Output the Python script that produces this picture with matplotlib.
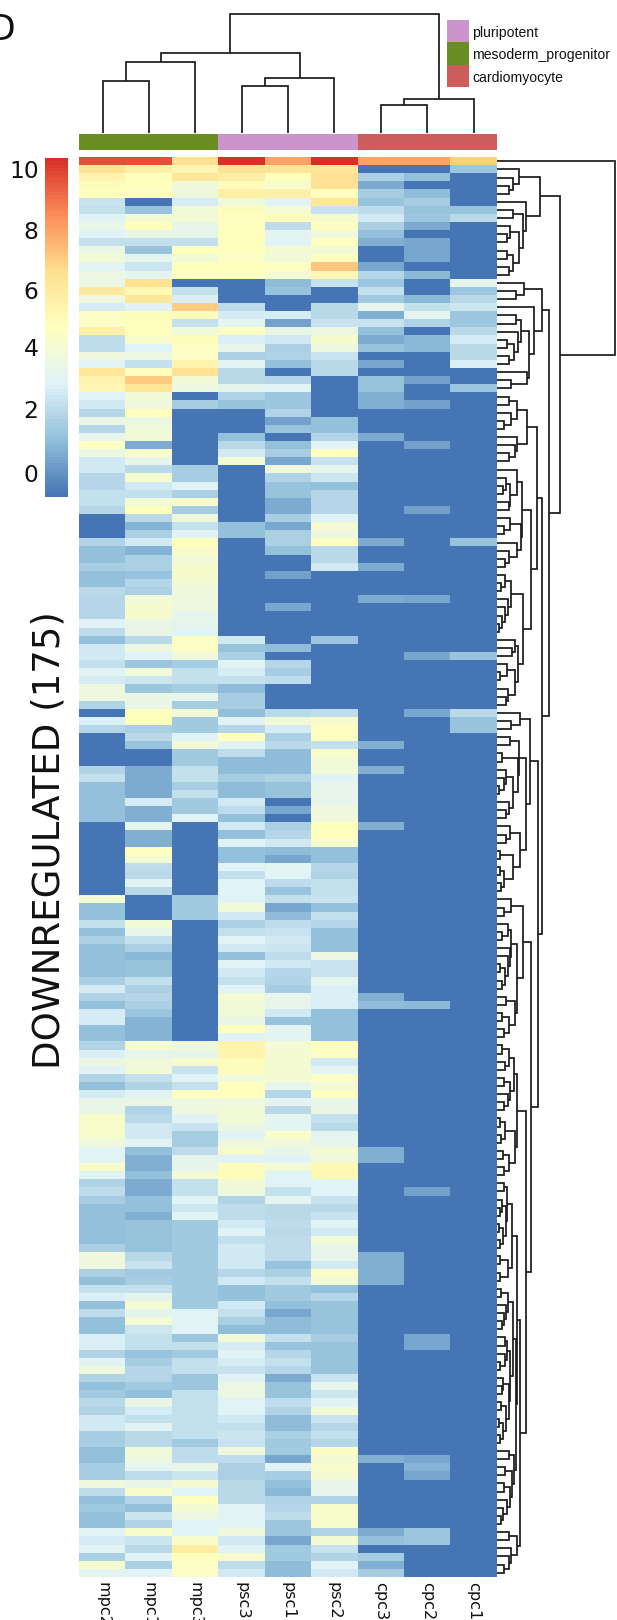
import matplotlib
matplotlib.use("Agg")
import matplotlib.pyplot as plt
import numpy as np
from matplotlib.colors import LinearSegmentedColormap, ListedColormap

D = -0.8  # value of the darkest blue, the floor of the colour scale

columns = ["mpc2", "mpc1", "mpc3", "psc3", "psc1", "psc2", "cpc3", "cpc2", "cpc1"]

mpc2 = [9.6,6.4,5.4,5.0,4.8,2.4,2.3,3,3.5,2.9,
        2.3,3.6,4.0,3,3.6,3.6,6.1,3.7,2.7,4.6,
        4.6,5.6,2.2,2.2,3.8,3,6.3,5.5,5.3,2.9,
        2.6,1.9,3.5,1.9,3.4,4.7,3.6,2.6,2.6,1.9,
        1.9,2.3,2.3,1.9,D,D,D,1.8,1.1,1.1,
        1.6,1.1,1.1,2.1,1.9,1.9,1.9,2.9,2.2,1.1,
        2.6,2.6,2.3,3,2.7,3.7,3.7,1.8,D,2.8,
        1.9,D,D,D,D,1.8,2.3,1.1,1.1,1.1,
        1.1,1.1,D,D,D,D,D,D,D,D,
        D,4.2,1.1,1.1,2.3,1.2,1.7,1.1,1.1,1.1,
        1.1,1.7,2.7,1.8,1.2,2.7,2.7,1.1,1.1,1.8,
        2.8,3.6,3,1.8,1.1,2.7,3.5,3.5,4.4,4.4,
        4.3,3.8,3.1,3.1,4.4,3.1,1.8,2.2,1.6,1.1,
        1.1,1.1,1.1,1.1,1.7,3.8,3.7,1.7,1.1,2.3,
        2.8,1.1,2.2,1.1,1.1,2.8,2.8,1.8,3,3.7,
        1.8,1.1,1.5,2.1,1.8,2.6,2.6,1.6,1.6,1.1,
        1.1,1.6,1.6,3.8,2.2,1.1,1.5,1.1,1.1,3.1,
        2.7,3,1.7,4.3,3.2]

mpc1 = [9.6,5.7,4.8,4.8,4.6,D,1.3,4.2,4.8,3.5,
        2.3,1.3,3.3,2.5,3.2,6.5,5.2,6.2,3,5.0,
        4.8,4.8,4.4,2.9,3.6,2.3,4.7,7.1,6.3,3.9,
        3.8,4.8,3.6,3.9,3.9,0.6,4.4,3.4,2.0,4.3,
        2.6,2.3,4.1,4.8,2,0.8,1.7,2.6,0.8,1.7,
        1.7,1.3,1.9,1.7,3.9,4.3,4.3,3.5,3.5,2.1,
        3.7,2.9,1.4,3.9,2.5,1.4,3.6,3.5,4.8,4.8,
        1.7,2,1.3,D,D,0.6,0.6,0.6,0.6,2.7,
        0.7,0.7,3.3,0.7,0.7,4.7,4.2,2.2,2,3,
        2.1,D,D,D,4,3.4,2.3,1.7,0.9,1.3,
        1.3,2.3,1.7,1.9,1.7,1.4,0.8,0.8,0.8,4.2,
        3.4,3.8,4,2.3,1.8,3.1,3.5,1.8,2.0,2.6,
        2.6,3,1.2,0.7,0.7,1.2,0.6,0.6,1.1,1.1,
        0.7,1.3,1.3,1.3,1.3,2,2.4,1.5,1.6,2.3,
        3.3,4.2,3.3,4.2,2.5,2.3,2.3,1.3,1.6,1.9,
        1.9,1.5,1.1,3.5,2.7,2.3,3.1,2.1,2.1,3.9,
        3.7,3.2,2.2,3.5,4.4,1.9,1.1,2.5,1.8,4.4,
        2.5,2,3,1.7,2.9]

mpc3 = [6.5,5.3,6.2,3.8,3.8,2.7,3.9,4.0,3.4,3.4,
        2.3,4.8,4,4.8,4.8,D,2.3,2.8,7.1,5.0,
        2.3,3.9,5.0,4.6,4.6,5.4,6.5,4.0,3.7,D,
        1.6,D,D,D,D,D,D,D,1.6,1.6,
        2.9,1.7,4.3,1.6,3.8,2.3,3.1,4.8,4.4,3.9,
        4.3,4.3,4.1,3.8,3.7,3.7,3.4,3.3,2.9,4.6,
        4.6,3.9,1.6,2.3,2.3,1.6,3.4,1.6,4,1.5,
        1.5,3,3.9,1.5,1.5,2.3,2.3,1.6,2.3,1.5,
        1.5,2.9,D,D,D,D,D,D,D,D,
        D,1.5,1.5,1.5,D,D,D,D,D,D,
        D,D,D,D,D,D,D,D,D,3.7,
        3.4,4.3,2.4,2.9,2.3,4.7,3.7,3.7,3,2.4,
        1.6,1.6,2.2,3.3,3.3,4,2.3,2.3,3,2.5,
        3,1.5,1.5,1.5,1.5,1.5,1.5,1.5,1.5,1.5,
        1.5,1.5,3,3,3,1.4,2.3,1.5,2.3,2.3,
        1.4,1.4,2.3,2.3,2.3,2.3,2.3,2.3,1.5,2.2,
        2.2,3.5,2.5,4.2,2.9,4.7,4.2,3.6,3,2.9,
        4.4,5.8,4.8,4.6,4.6]

psc3 = [10.3,6.4,5.7,5.0,5.7,3.9,5.0,4.7,4.8,4.8,
        4.8,4.8,4.6,4.8,4.8,D,D,D,2.2,2.7,
        3.2,4.6,2.8,3.4,1.7,3.2,2.1,2.1,3.3,1.8,
        1.3,D,D,D,1.1,2.1,2.6,4,D,D,
        D,D,D,D,D,1.1,1.1,D,D,D,
        D,D,D,D,D,D,D,D,D,2.6,
        1.3,1.7,3.1,2.7,2.3,1.0,1.6,1.6,1.2,3.1,
        1.9,4.8,3.1,2.2,1,1,1.6,1,1,2.6,
        2.2,1.1,2.6,1.1,2.9,1.1,1.1,3.1,2.3,2.9,
        2.9,3.1,3.9,2.6,1.7,2.3,3.1,2.6,1.1,3,
        2.6,2.3,3.1,4.2,3.9,3.9,3.5,4.8,3.1,5.4,
        5.4,5.0,5.0,3.9,4.8,4.8,3.8,4,4.1,3.6,
        2.9,3.8,4.3,3,5.0,5.0,4,3.7,1.8,2.2,
        2.2,2.6,2.9,2.3,2.6,2.6,2.6,1.9,2.6,1.1,
        1.1,2.6,2.3,1.7,1,4,2.7,3,2.7,2.4,
        3,3.6,3.6,2.9,2.9,2.6,2.3,2.5,2.4,3.8,
        2.2,1.7,1.7,2,2,2,3,3.1,3.1,3.8,
        2.6,3,4.3,2.2,2.6]

psc1 = [8,6.3,4.8,4.3,5.6,3.1,4.2,5.0,2.2,3.2,
        3.1,4.2,3.9,4.7,4.2,1.0,1.3,D,D,2.7,
        0.4,3.5,2.6,1.7,1.8,1.2,D,1.9,3.0,1.4,
        1.4,1.8,0.4,1.3,D,1.2,1.6,0.5,3.8,1.8,
        1.3,1.3,0.6,0.6,1.6,0.5,1.7,1.7,1.1,D,
        D,0.4,D,D,D,0.5,D,D,D,D,
        1.0,D,1.9,1.6,2.2,D,D,D,2.0,3.9,
        2.7,1.7,2,1,1,1,1.8,1.3,1.3,D,
        0.5,D,1.7,1.9,2.6,1.0,0.5,3.2,3.0,2.2,
        1.3,2.3,0.5,1.0,2.2,2.4,2.6,2.5,2.2,2.6,
        1.9,1.8,1.6,3.4,3.4,2.6,1.3,3.2,3.2,4.2,
        4.2,4.2,4.2,4.2,3.4,1.9,3.2,2,3.2,3.2,
        4.5,3.8,3.4,3.1,4,2.9,3,2.3,3.2,2.1,
        2.1,2.2,2,2.2,2.2,2.2,1.3,1.7,2.3,1.5,
        1.5,1.2,0.5,1,1,2.3,1.3,1.9,2.3,1.9,
        0.6,1.3,1.3,2.2,1.8,1,1,1.7,1.5,1.5,
        0.5,3.1,1.6,1.1,0.9,1.8,1.9,2.2,1.4,1.4,
        0.5,1.5,1.5,1,1]

psc2 = [10.3,6.2,6.5,6.5,4.7,6.2,2.4,4.3,4.7,3.8,
        4.7,4.0,4.8,7.2,5.2,2.4,D,D,2,2,
        2.4,3.6,4.3,3.7,2.4,2,2,D,D,D,
        D,D,1.2,1.2,1.8,2.9,4.8,2.4,3.3,2.5,
        1.2,1.9,1.9,1.9,2.9,4.2,3.7,4.6,2,2,
        2.6,D,D,D,D,D,D,D,D,1.4,
        D,D,D,D,D,D,D,D,2.2,4.4,
        4.7,4.7,2.3,4.4,3.9,3.9,2.9,3.4,3.4,3.4,
        3.8,3.8,4.8,4.8,4.3,1.2,1.2,1.9,1.8,2.3,
        2.3,2.4,1.2,2.3,1.9,1.2,1.2,1.2,3.6,2.4,
        2.4,3.3,2.8,2.8,2.8,1.2,1.2,1.2,1.2,4.8,
        4.6,2.6,3.2,4.5,4.2,4.7,3.4,3.6,2.3,2.0,
        3.2,3.4,4.2,3.9,5.2,5.2,2.9,2.9,2.4,2,
        2.4,3,2.6,4.1,3.4,3.4,2.6,4.5,4.1,1.2,
        1.9,1.3,1.3,1.3,1.3,1.6,1.3,1.3,1.3,1.3,
        2.4,3.4,2.5,3.1,4.1,2.4,1.9,2.3,1.9,4.6,
        4.2,4.4,4.2,3.4,3.4,1.8,4.4,4.4,4.4,1.8,
        4.2,2.4,1.8,3.1,2.6]

cpc3 = ([8,D,1.7,0.6,1.6,1.3,2.2,2.6,1.7,1.2,0.7,D,D,0.5,1.9,
         1.4,2.3,1.5,3.3,0.7,2.4,1.2,0.6,1.3,D,0.5,D,1.3,1.3,
         0.7,0.7,D,D,D,0.6] + [D]*12 + [0.6,D,D,0.6,D,D,D,0.6] + [D]*17 +
        [0.7,D,D,0.7] + [D]*6 + [0.7] + [D]*20 + [0.7,1.0] + [D]*17 +
        [0.7,0.7] + [D]*11 + [0.7,0.7,0.7,0.7] + [D]*21 + [0.7] + [D]*8 +
        [0.6,1.1,D,1.6,0.7,1.6])

cpc2 = ([8,D,1.2,D,1.0,1.6,1.3,1.4,0.6,D,0.5,0.5,0.5,D,0.9,
         D,D,0.9,2.3,3.3,1.8,D,0.9,0.9,D,D,D,0.4,D,D,0.4,
         D,D,D,D,0.4] + [D]*7 + [0.4] + [D]*10 + [0.5] + [D]*6 + [0.5] +
        [D]*6 + [0.5] + [D]*35 + [0.9] + [D]*22 + [0.4] + [D]*17 + [0.5,0.5] +
        [D]*13 + [0.5,0.8,0.5] + [D]*6 + [1.4,1.4,D,D,D,D])

cpc1 = ([7,1.4,D,D,D,D,1.3,2.0] + [D]*7 +
        [3.3,1.4,2.0,2.5,1.4,1.4,2.1,2.7,2.0,2.0,2.8,D,D,1.4] + [D]*18 +
        [1.3] + [D]*13 + [1.3] + [D]*6 + [2.0,1.3,1.3] + [D]*104)

# Merge height between each pair of neighbouring leaves (the tree follows from these)
row_merges = [370,
    80,63,52,145,
    103,63,93,55,45,82,45,64,52,205,
    95,72,150,125,72,88,78,45,65,50,112,105,58,172,
    52,75,58,35,106,76,70,52,135,
    75,42,33,55,52,90,55,37,88,75,50,38,118,
    40,28,58,47,38,30,22,94,68,60,78,45,25,70,47,43,150,
    85,58,115,55,80,30,78,42,37,22,62,50,43,103,55,42,85,25,62,25,37,27,137,
    58,35,92,47,30,58,55,48,25,40,30,75,42,70,30,50,37,118,
    30,50,38,65,35,55,47,37,75,25,40,27,68,32,50,37,103,
    35,45,30,25,42,22,33,23,60,25,48,25,75,
    28,47,43,36,30,62,38,45,40,23,55,33,30,50,28,42,22,32,24,72,
    50,65,40,60,35,55,45,32,28,85,
    52,75,58,52,37]
col_merges = [52, 71, 80, 47, 55, 119, 28, 34]

col_groups = ["mesoderm_progenitor"]*3 + ["pluripotent"]*3 + ["cardiomyocyte"]*3
legend_names = ["pluripotent", "mesoderm_progenitor", "cardiomyocyte"]
legend_colors = ["#CC94CC", "#6B8E23", "#CD5C5C"]
scale_colors = ["#4575B4", "#91BFDB", "#E0F3F8", "#FFFFBF", "#FEE090", "#FC8D59", "#D73027"]
VMIN, VMAX = -0.8, 10.36
cbar_tick_pos = [0, 2.1, 4.14, 6, 8, 10]
cbar_tick_labels = ["0", "2", "4", "6", "8", "10"]

W, H = 617, 1620
fig = plt.figure(figsize=(W/100, H/100), dpi=100, facecolor="white")


def box(x0, y0, x1, y1):
    """Axes from pixel box, y measured from the top."""
    return fig.add_axes([x0/W, 1-y1/H, (x1-x0)/W, (y1-y0)/H])


def tree(ax, merges, lo, hi, horizontal, lw=1.25):
    """Draw the subtree over leaves lo..hi; return (centre, height)."""
    if lo == hi:
        return lo, 0 if not horizontal else merge_base
    k = lo + int(np.argmax(merges[lo:hi]))
    h = merges[k]
    p1, h1 = tree(ax, merges, lo, k, horizontal, lw)
    p2, h2 = tree(ax, merges, k+1, hi, horizontal, lw)
    ps, hs = [p1, p1, p2, p2], [h1, h, h, h2]
    xy = (hs, ps) if horizontal else (ps, hs)
    ax.plot(*xy, color="#1a1a1a", lw=lw, solid_joinstyle="miter",
            solid_capstyle="butt", clip_on=False)
    return (p1+p2)/2, h


L, R, T, B = 79.5, 496.7, 157.3, 1576.7
cmap = LinearSegmentedColormap.from_list("rdylbu", scale_colors, N=100)
data = np.array([mpc2, mpc1, mpc3, psc3, psc1, psc2, cpc3, cpc2, cpc1], dtype=float).T

ax = box(L, T, R, B)
im = ax.imshow(data, aspect="auto", cmap=cmap, vmin=VMIN, vmax=VMAX, interpolation="nearest")
ax.set_xticks(range(len(columns)))
ax.set_xticklabels(columns, rotation=270, ha="center", va="top", fontsize=11.6,
                   family="DejaVu Sans", color="#111111")
ax.set_yticks([])
ax.tick_params(axis="x", length=0, pad=3.6)
for s in ax.spines.values():
    s.set_visible(False)

# annotation bar
ax_ann = box(L, 134, R, 150.5)
group_idx = [legend_names.index(g) for g in col_groups]
ax_ann.imshow(np.array([group_idx]), aspect="auto", cmap=ListedColormap(legend_colors),
              vmin=0, vmax=2, interpolation="nearest")
ax_ann.axis("off")

# column dendrogram
merge_base = 14
ax_c = box(L, 0, R, 133)
ax_c.set_xlim(-0.5, len(columns)-0.5)
ax_c.set_ylim(0, 133)
tree(ax_c, col_merges, 0, len(columns)-1, False)
ax_c.axis("off")

# row dendrogram (leaf side at the heatmap edge)
ax_r = box(R, T, W, B)
ax_r.set_xlim(merge_base, merge_base + 3*(W-R))
ax_r.set_ylim(data.shape[0]-0.5, -0.5)
tree(ax_r, row_merges, 0, data.shape[0]-1, True)
ax_r.axis("off")

# colour bar
cax = box(45, 157.9, 68, 497.3)
cb = fig.colorbar(im, cax=cax, ticks=cbar_tick_pos)
cb.ax.set_yticklabels(cbar_tick_labels)
cb.outline.set_visible(False)
cb.ax.yaxis.set_ticks_position("left")
cb.ax.tick_params(length=0, pad=4.6, labelsize=16.8, labelcolor="#111111")

# legend
ax_l = box(447, 20, 468.5, 87)
ax_l.imshow(np.arange(len(legend_names)).reshape(-1, 1), aspect="auto",
            cmap=ListedColormap(legend_colors), vmin=0, vmax=2, interpolation="nearest")
ax_l.axis("off")
for i, name in enumerate(legend_names):
    fig.text(472/W, 1-(33+22.3*i)/H, name, fontsize=10.05, family="Liberation Sans",
             ha="left", va="center", color="#111111")

fig.text(49.5/W, 1-840/H, "DOWNREGULATED (175)", rotation=90, fontsize=26.7,
         ha="center", va="center", color="#111111")
fig.text(15/W, 1-30/H, "D", fontsize=25, ha="right", va="center", color="#111111")

fig.savefig("out.png", dpi=100, facecolor="white")
